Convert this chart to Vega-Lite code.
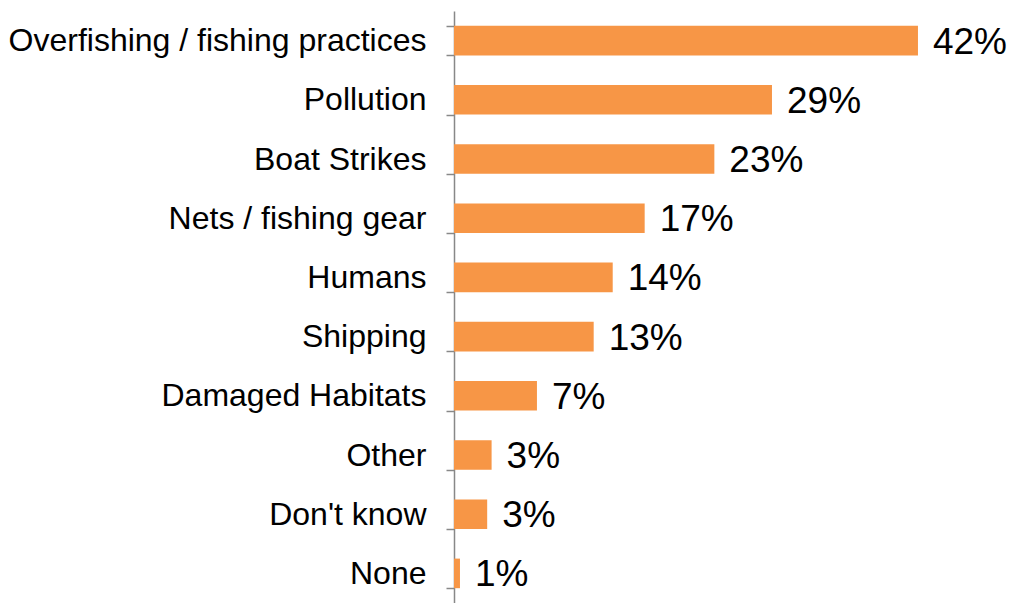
{
  "$schema": "https://vega.github.io/schema/vega-lite/v6.json",
  "autosize": "none",
  "width": 553,
  "height": 592,
  "padding": {"left": 454, "top": 11, "right": 15, "bottom": 0},
  "background": "white",
  "config": {"view": {"stroke": null}, "font": "Liberation Sans"},
  "data": {"values": [
    {"category": "Overfishing / fishing practices", "value": 0.4195, "label": "42%"},
    {"category": "Pollution", "value": 0.2875, "label": "29%"},
    {"category": "Boat Strikes", "value": 0.2354, "label": "23%"},
    {"category": "Nets / fishing gear", "value": 0.1724, "label": "17%"},
    {"category": "Humans", "value": 0.1435, "label": "14%"},
    {"category": "Shipping", "value": 0.1263, "label": "13%"},
    {"category": "Damaged Habitats", "value": 0.075, "label": "7%"},
    {"category": "Other", "value": 0.034, "label": "3%"},
    {"category": "Don't know", "value": 0.030, "label": "3%"},
    {"category": "None", "value": 0.0054, "label": "1%"}
  ]},
  "encoding": {
    "y": {"field": "category", "type": "nominal", "sort": null,
      "scale": {"paddingInner": 0.5, "paddingOuter": 0.25},
      "axis": {"title": null, "domainColor": "#888888", "domainWidth": 1.5, "tickColor": "#888888", "tickWidth": 1.5, "tickSize": 8, "tickBand": "extent", "labelFontSize": 32, "labelColor": "#000000", "labelPadding": 20, "labelFont": "Liberation Sans", "labelLimit": 600}},
    "x": {"field": "value", "type": "quantitative", "scale": {"domain": [0, 0.5]}, "axis": null}
  },
  "layer": [
    {"mark": {"type": "bar", "color": "#F79646"}},
    {"mark": {"type": "text", "align": "left", "baseline": "middle", "dx": 15, "dy": 2, "fontSize": 37, "font": "Liberation Sans", "color": "#000000"},
     "encoding": {"text": {"field": "label"}}}
  ]
}
